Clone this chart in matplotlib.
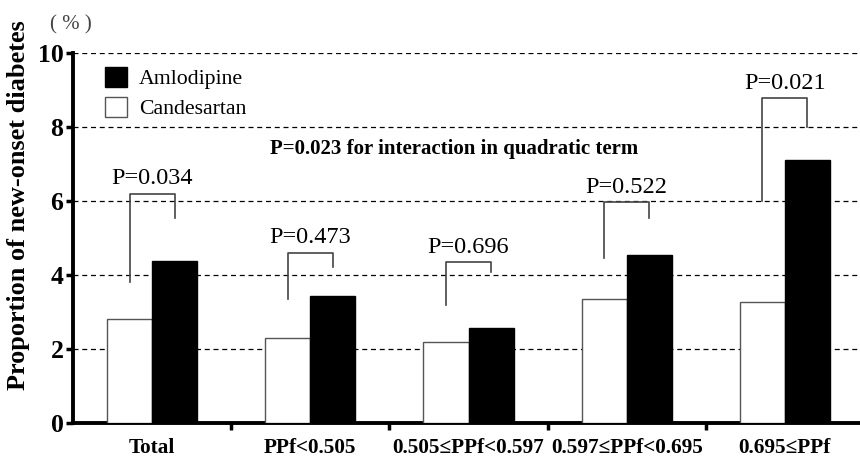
import matplotlib.pyplot as plt
import numpy as np

# Data
groups = ["Total", "PPf<0.505", "0.505≤PPf<0.597", "0.597≤PPf<0.695", "0.695≤PPf"]
candesartan = [2.82, 2.30, 2.18, 3.35, 3.28]
amlodipine = [4.37, 3.42, 2.58, 4.53, 7.10]
p_values = ["P=0.034", "P=0.473", "P=0.696", "P=0.522", "P=0.021"]
# bracket: left foot, top, right foot (in % units)
bracket_left = [3.8, 3.35, 3.2, 4.45, 6.0]
bracket_top = [6.2, 4.6, 4.35, 5.97, 8.78]
bracket_right = [5.55, 4.22, 4.08, 5.55, 8.0]

serif = ["Liberation Serif", "DejaVu Serif"]
plt.rcParams["font.family"] = serif

fig = plt.figure(figsize=(8.6, 4.62), dpi=100)
ax = fig.add_axes([0.085, 0.0844, 0.915, 0.8009])

x = np.arange(len(groups))
w = 0.285
ax.bar(x - w / 2, candesartan, w, color="white", edgecolor="#555555", linewidth=1, zorder=3)
ax.bar(x + w / 2, amlodipine, w, color="black", edgecolor="black", linewidth=1, zorder=3)

for yv in [2, 4, 6, 8, 10]:
    ax.axhline(yv, color="black", linestyle=(0, (4, 3)), linewidth=0.9, zorder=1)

# P-value brackets
for i in range(len(groups)):
    xl, xr = x[i] - w / 2, x[i] + w / 2
    ax.plot([xl, xl, xr, xr], [bracket_left[i], bracket_top[i], bracket_top[i], bracket_right[i]],
            color="#444444", linewidth=1.2, zorder=4)
    ax.text(x[i], bracket_top[i] + 0.12, p_values[i], ha="center", va="bottom", fontsize=17.5, zorder=5)

ax.text(1.91, 7.4, "P=0.023 for interaction in quadratic term", ha="center", va="center",
        fontsize=15, fontweight="bold")

ax.set_xlim(-0.5, 4.475)
ax.set_ylim(0, 10)
ax.set_yticks([0, 2, 4, 6, 8, 10])
ax.set_yticklabels(["0", "2", "4", "6", "8", "10"], fontsize=18.5, fontweight="bold")
ax.set_xticks([0.5, 1.5, 2.5, 3.5])
ax.set_xticklabels([])
ax.set_xticks(x, minor=True)
ax.set_xticklabels(groups, minor=True, fontsize=15.3, fontweight="bold")
ax.tick_params(axis="x", which="minor", length=0, pad=11)
ax.tick_params(axis="x", which="major", direction="out", length=5, width=2.5)
ax.tick_params(axis="y", direction="out", length=5, width=2.5, pad=2)

for side in ["top", "right"]:
    ax.spines[side].set_visible(False)
ax.spines["left"].set_linewidth(2.8)
ax.spines["bottom"].set_linewidth(2.8)

fig.text(0.021, 1 - 205 / 462, "Proportion of new-onset diabetes", rotation=90, ha="center", va="center",
         fontsize=18.9, fontweight="bold")
fig.text(0.058, 1 - 25 / 462, "( % )", fontsize=15, ha="left", va="center", color="#444444")

# legend drawn as squares
handles = [plt.Rectangle((0, 0), 1, 1, facecolor="black", edgecolor="black"),
           plt.Rectangle((0, 0), 1, 1, facecolor="white", edgecolor="#555555")]
ax.legend(handles, ["Amlodipine", "Candesartan"], loc="upper left", bbox_to_anchor=(0.03, 0.985),
          frameon=False, fontsize=15.7, handlelength=1.0, handleheight=1.0, handletextpad=0.55,
          labelspacing=0.35, borderaxespad=0)

plt.savefig("out.png", dpi=100)
